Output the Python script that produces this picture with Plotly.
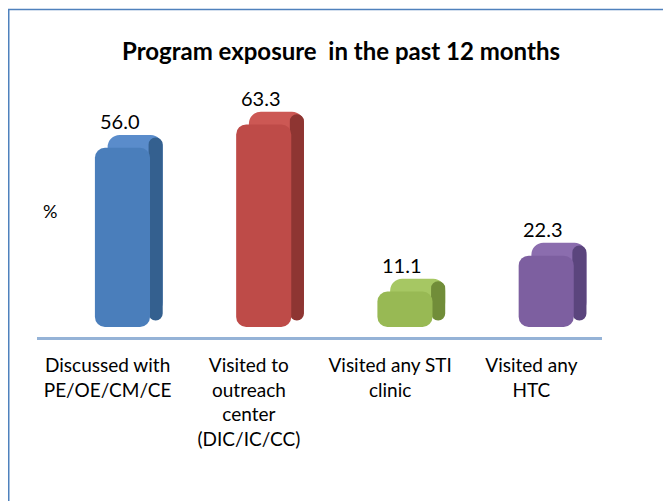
import plotly.graph_objects as go

categories = ["Discussed with<br>PE/OE/CM/CE",
              "Visited to<br>outreach<br>center<br>(DIC/IC/CC)",
              "Visited any STI<br>clinic",
              "Visited any<br>HTC"]
values = [56.0, 63.3, 11.1, 22.3]
front_colors = ["#4A7EBB", "#BE4B48", "#98B954", "#7D5FA0"]
side_colors = ["#34608F", "#8E3532", "#718D39", "#5B457D"]
top_colors = ["#5A8CCB", "#CC5854", "#A6C763", "#8B6DAE"]

# page body has an 8px margin, so the figure is drawn 8px in from the window edge
W, H = 663, 493
left, right, top, bottom = 29, 69, 82, 164
pw, ph = W - left - right, H - top - bottom
depth = 4.0  # 3d depth of the bars, in axis units

fig = go.Figure()

# back / top face, shifted up and to the right
fig.add_trace(go.Bar(x=categories, y=values, base=depth, width=0.39, offset=0.0,
                     marker=dict(color=top_colors, cornerradius=12, line=dict(width=0)),
                     hoverinfo="skip"))
# right side face
fig.add_trace(go.Bar(x=categories, y=[v + depth * 0.3 for v in values], base=depth * 0.5,
                     width=0.10, offset=0.29,
                     marker=dict(color=side_colors, cornerradius=7, line=dict(width=0)),
                     hoverinfo="skip"))
# front face
fig.add_trace(go.Bar(x=categories, y=values, base=0, width=0.39, offset=-0.09,
                     marker=dict(color=front_colors, cornerradius=10, line=dict(width=0)),
                     hoverinfo="skip"))

for cat, v in zip(categories, values):
    fig.add_annotation(x=cat, y=v + depth, text=f"{v:.1f}", showarrow=False,
                       xshift=12, yshift=0, yanchor="bottom",
                       font=dict(family="Lato", size=20, color="#000000"))

fig.add_annotation(x=(42 - left) / pw, y=(H - bottom - 203) / ph,
                   xref="paper", yref="paper", text="%", showarrow=False,
                   xanchor="center", yanchor="middle",
                   font=dict(family="Lato", size=18, color="#000000"))

# chart border
fig.add_shape(type="rect", xref="paper", yref="paper",
              x0=(0.75 - left) / pw, x1=1.3,
              y0=-1.0, y1=(H - bottom - 1.5) / ph,
              line=dict(color="#4F81BD", width=1.5))

fig.update_layout(
    width=W, height=H,
    margin=dict(l=left, r=right, t=top, b=bottom, pad=0),
    barmode="overlay",
    showlegend=False,
    plot_bgcolor="white",
    paper_bgcolor="white",
    title=dict(text="<b>Program exposure  in the past 12 months</b>",
               xref="container", x=333 / W, xanchor="center",
               yref="container", y=1 - 44 / H, yanchor="middle",
               font=dict(family="Lato", size=24, color="#000000")),
    font=dict(family="Lato", color="#000000"),
)
fig.update_xaxes(range=[-0.5, 3.5], showline=True, linecolor="#95B3D7", linewidth=3,
                 showgrid=False, ticks="", tickfont=dict(family="Lato", size=19, color="#000000"),
                 ticklabelstandoff=9, fixedrange=True)
fig.update_yaxes(range=[-3.125, 74.06], visible=False, showgrid=False, zeroline=False)

fig.write_html("out.html")
